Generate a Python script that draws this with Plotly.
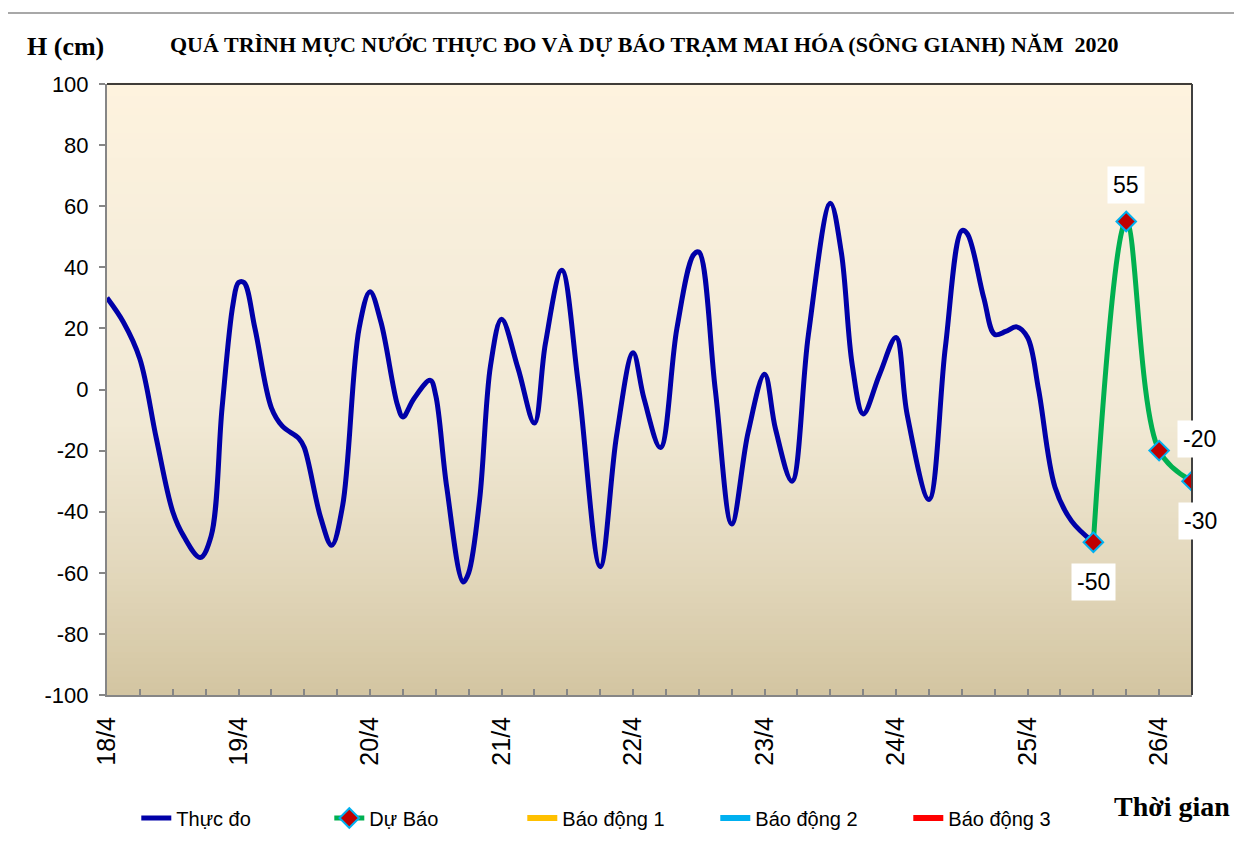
import plotly.graph_objects as go
import pandas as pd

# ---------------- data ----------------
start = pd.Timestamp("2020-04-18 00:00")

# observed water level (hours after 18/4 00h, cm)
obs_hours = [0, 3, 6, 9, 12, 14, 17, 19, 21, 23, 24, 25, 27, 30, 32, 35, 36, 39, 41, 43,
             46, 48, 50, 53, 54, 56, 59, 60, 62, 65, 66, 68, 70, 72, 75, 78, 80, 83, 86, 90,
             93, 96, 98, 101, 104, 107, 108, 111, 114, 117, 120, 122, 125, 128, 132, 134, 136,
             138, 141, 144, 146, 150, 153, 156, 157, 160, 162, 164, 166, 168, 170, 173, 176, 180]
obs_level = [30, 22, 10, -16, -40, -48, -55, -48, -6, 28, 35, 35, 20, -6, -12, -16, -19, -42, -51, -38,
             20, 32, 22, -5, -9, -3, 3, -2, -32, -63, -60, -36, 8, 23, 7, -11, 15, 39, 2, -58,
             -15, 12, -3, -19, 20, 44, 45, 0, -44, -14, 5, -13, -30, 18, 61, 45, 8,
             -8, 5, 17, -8, -36, 14, 52, 51, 30, 18, 19, 20.5, 17, 0, -32, -43, -50]

# forecast
fc_hours = [180, 186, 192, 198]
fc_level = [-50, 55, -20, -30]

# alarm levels (off the visible range, legend only)
alarm_names = ["Báo động 1", "Báo động 2", "Báo động 3"]
alarm_colors = ["#FFC000", "#00B0F0", "#FF0000"]

day_labels = ["18/4", "19/4", "20/4", "21/4", "22/4", "23/4", "24/4", "25/4", "26/4"]
y_ticks = [-100, -80, -60, -40, -20, 0, 20, 40, 60, 80, 100]
end_hours = 198

title_text = "QUÁ TRÌNH MỰC NƯỚC THỰC ĐO VÀ DỰ BÁO TRẠM MAI HÓA (SÔNG GIANH) NĂM  2020"

# ---------------- build ----------------
obs_x = [start + pd.Timedelta(hours=h) for h in obs_hours]
fc_x = [start + pd.Timedelta(hours=h) for h in fc_hours]
tick_x = [start + pd.Timedelta(days=i) for i in range(len(day_labels))]

fig = go.Figure()

fig.add_trace(go.Scatter(
    x=obs_x, y=obs_level, mode="lines", name="Thực đo",
    line=dict(color="#0000A8", width=5, shape="spline", smoothing=1.0),
    hoverinfo="x+y"))

fig.add_trace(go.Scatter(
    x=fc_x, y=fc_level, mode="lines+markers", name="Dự Báo",
    line=dict(color="#00B050", width=5, shape="spline", smoothing=1.0),
    marker=dict(symbol="diamond", size=15, color="#C00000",
                line=dict(color="#00B0F0", width=2))))

for nm, col in zip(alarm_names, alarm_colors):
    fig.add_trace(go.Scatter(x=[None], y=[None], mode="lines", name=nm,
                             line=dict(color=col, width=6)))

# gradient background bands
def lerp(c1, c2, t):
    return tuple(round(a + (b - a) * t) for a, b in zip(c1, c2))

stops = [(0.0, (211, 197, 161)), (0.2, (226, 215, 187)), (0.45, (241, 233, 213)),
         (0.75, (247, 238, 219)), (1.0, (254, 243, 222))]
nb = 100
shapes = []
for i in range(nb):
    t = (i + 0.5) / nb
    for (s0, c0), (s1, c1) in zip(stops[:-1], stops[1:]):
        if s0 <= t <= s1:
            c = lerp(c0, c1, (t - s0) / (s1 - s0))
            break
    shapes.append(dict(type="rect", xref="paper", yref="paper",
                       x0=0, x1=1, y0=i / nb, y1=(i + 1) / nb + 0.002,
                       fillcolor="rgb(%d,%d,%d)" % c, line=dict(width=0), layer="below"))

# borders
shapes.append(dict(type="line", xref="paper", yref="paper", x0=0, x1=1, y0=1, y1=1,
                   line=dict(color="#000000", width=1.5)))
shapes.append(dict(type="line", xref="paper", yref="paper", x0=1, x1=1, y0=0, y1=1,
                   line=dict(color="#404040", width=2)))
shapes.append(dict(type="rect", xref="paper", yref="paper", x0=-0.0922, x1=1.06,
                   y0=-0.30, y1=1.1162, line=dict(color="#8c8c8c", width=1.5)))

annotations = [
    dict(text="<b>H (cm)</b>", xref="paper", yref="paper", x=-0.0387, y=1.062,
         xanchor="center", yanchor="middle",
         showarrow=False, font=dict(family="Liberation Serif", size=26, color="black")),
    dict(text="<b>" + title_text + "</b>", xref="paper", yref="paper", x=0.495, y=1.064,
         xanchor="center", yanchor="middle",
         showarrow=False, font=dict(family="Liberation Serif", size=22, color="black")),
    dict(text="<b>Thời gian</b>", xref="paper", yref="paper", x=0.9816, y=-0.1817,
         xanchor="center", yanchor="middle",
         showarrow=False, font=dict(family="Liberation Serif", size=28, color="black")),
]

label_shift = [(0, -40), (0, 36), (40, 12), (8, -40)]
for xv, yv, (dx, dy) in zip(fc_x, fc_level, label_shift):
    annotations.append(dict(text=str(yv), x=xv, y=yv, xref="x", yref="y",
                            xanchor="center", yanchor="middle",
                            showarrow=False, xshift=dx, yshift=dy,
                            bgcolor="white", borderpad=5,
                            font=dict(family="Liberation Sans", size=23, color="black")))

fig.update_layout(
    width=1234, height=847,
    margin=dict(l=99, r=50, t=76, b=160),
    paper_bgcolor="white", plot_bgcolor="white",
    shapes=shapes, annotations=annotations,
    showlegend=True,
    legend=dict(orientation="h", x=0.027, y=-0.2013, xanchor="left", yanchor="middle",
                font=dict(family="Liberation Sans", size=20, color="black"),
                entrywidth=148, bgcolor="rgba(0,0,0,0)"),
    xaxis=dict(type="date",
               range=[start, start + pd.Timedelta(hours=end_hours)],
               tickvals=tick_x, ticktext=day_labels, tickangle=-90,
               tickfont=dict(family="Liberation Sans", size=25, color="black"),
               ticks="inside", ticklen=6, tickcolor="#868686", tickwidth=1.5,
               ticklabelstandoff=10,
               showline=True, linecolor="#868686", linewidth=2,
               showgrid=False, zeroline=False,
               minor=dict(dtick=6 * 3600 * 1000, tick0=start, ticks="inside", ticklen=6,
                          tickcolor="#868686", tickwidth=1.5, showgrid=False)),
    yaxis=dict(range=[y_ticks[0], y_ticks[-1]],
               tickvals=y_ticks, ticktext=[str(v) for v in y_ticks],
               tickfont=dict(family="Liberation Sans", size=22, color="black"),
               ticks="outside", ticklen=6, tickcolor="#868686", tickwidth=1.5,
               ticklabelstandoff=6,
               showline=True, linecolor="#868686", linewidth=2,
               showgrid=False, zeroline=False),
)

fig.write_html("out.html")
